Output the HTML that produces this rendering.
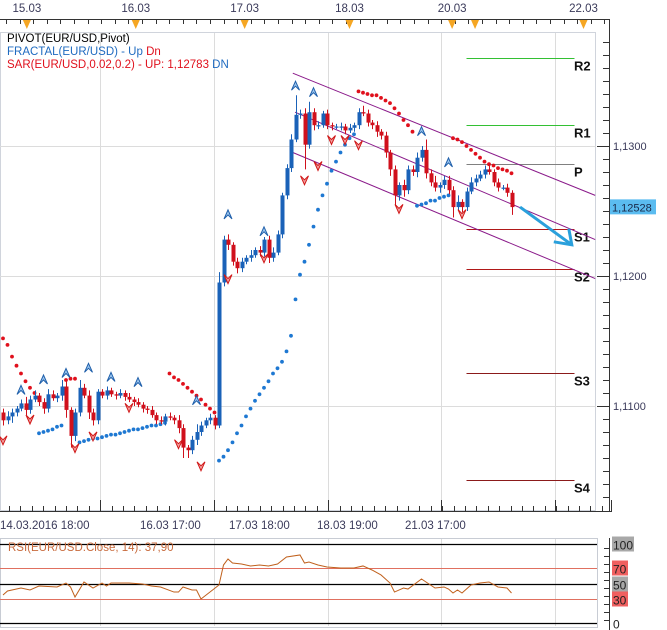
<!DOCTYPE html>
<html><head><meta charset="utf-8"><style>
html,body{margin:0;padding:0;background:#fff;}
svg{display:block;font-family:"Liberation Sans",sans-serif;}
</style></head><body>
<svg id="c" width="667" height="630" viewBox="0 0 667 630">
<rect x="0" y="0" width="667" height="630" fill="#fff"/>
<g id="grid"></g>
<g id="axes"></g>
<g id="pivots"></g>
<g id="channel"></g>
<g id="sar"></g>
<g id="candles"></g>
<g id="fractals"></g>
<g id="rsi"></g>
<g font-size="11.5">
<text x="7" y="42" fill="#000">PIVOT(EUR/USD,Pivot)</text>
<text x="7" y="55" fill="#1f6bc0">FRACTAL(EUR/USD) -  Up <tspan fill="#e0101c">Dn</tspan></text>
<text x="7" y="68" fill="#e0101c">SAR(EUR/USD,0.02,0.2) -  UP: 1,12783 <tspan fill="#1f6bc0">DN</tspan></text>
</g>
</svg>
<script>
const closes=[1.1089,1.1092,1.1095,1.1098,1.1102,1.1097,1.1105,1.1108,1.1103,1.1098,1.1109,1.1106,1.1108,1.1115,1.1097,1.1077,1.1095,1.1114,1.1108,1.1095,1.1089,1.1111,
1.1108,1.1112,1.1109,1.1108,1.1110,1.1107,1.1105,1.1103,1.1101,1.1098,1.1097,1.1093,1.1089,1.1088,1.1092,1.1091,1.1089,1.1083,1.1068,1.1066,1.1074,1.1080,1.1085,1.1089,1.1091,1.1085,
1.1195,1.1228,1.1224,1.1211,1.1206,1.1211,1.1214,1.1216,1.1220,1.1218,1.1228,1.1214,1.1218,1.1232,1.1262,1.1283,1.1305,1.1324,1.1325,1.1301,1.1326,1.1316,1.1316,1.1325,1.1316,1.1315,1.1315,1.1315,1.1312,1.1314,1.1316,1.1326,1.1325,1.1318,1.1316,1.1311,1.1308,1.1295,1.1282,1.1262,1.1270,1.1266,1.1282,1.1280,1.1291,1.1297,1.1279,1.1272,1.1268,1.1270,1.1274,1.1266,1.1253,1.1257,1.1253,1.1265,1.1272,1.1275,1.1278,1.1282,1.1280,1.1272,1.1268,1.1268,1.1264,1.1253];
const firstOpen=1.1095;
const upperWickPips=[3,4,3,2,3,5,3,4,2,3,4,3,2,5,4,2,3,6,3,4,3,2,2,3,2,2,3,2,3,2,3,2,2,3,2,3,2,3,2,4,3,2,3,6,3,2,3,2,8,3,4,2,3,3,2,4,2,3,2,3,4,3,2,3,4,15,3,4,8,3,3,2,3,2,2,3,2,3,2,3,5,3,2,3,2,3,2,3,2,4,3,3,4,3,8,3,5,2,3,3,3,5,2,3,4,3,3,3,4,2,3,2,3,2];
const lowerWickPips=[4,3,5,3,2,4,3,2,3,4,3,2,3,4,6,9,4,3,2,5,4,3,2,3,2,3,2,3,2,3,2,3,3,2,3,2,3,2,3,4,8,6,3,4,3,2,3,3,2,3,4,3,4,3,2,3,2,3,3,4,3,2,3,3,3,2,3,19,3,4,3,2,3,3,2,3,3,2,3,3,2,3,3,4,3,4,5,8,4,5,3,3,4,3,4,3,3,4,3,3,8,3,4,3,2,3,2,3,2,3,3,2,3,6];
const sarValues=[1.1152,1.1147,1.1138,1.1131,1.1125,1.1119,1.1114,1.1110,
1.1079,1.1080,1.1081,1.1082,1.1084,1.1085,1.1120,1.1121,1.1121,
1.1072,1.1073,1.1074,1.1075,1.1075,1.1076,1.1077,1.1078,1.1078,1.1079,1.1080,1.1081,1.1082,1.1082,1.1083,1.1084,1.1085,1.1085,1.1086,1.1087,
1.1125,1.1122,1.1120,1.1117,1.1114,1.1111,1.1108,1.1105,1.1101,1.1098,1.1095,
1.1058,1.1061,1.1066,1.1072,1.1079,1.1085,1.1092,1.1098,1.1104,1.1109,1.1114,1.1119,1.1125,1.1129,1.1134,1.1142,1.1154,1.1182,1.1201,1.1211,1.1224,1.1238,1.1251,1.1262,1.1271,1.1281,1.1288,1.1295,1.1301,1.1306,1.1309,
1.1342,1.1341,1.1340,1.1339,1.1339,1.1337,1.1335,1.1333,1.1329,1.1325,1.1320,1.1316,1.1311,
1.1254,1.1255,1.1256,1.1258,1.1258,1.1260,1.1261,1.1262,
1.1306,1.1305,1.1303,1.1300,1.1297,1.1294,1.1291,1.1288,1.1286,1.1285,1.1283,1.1282,1.1281,1.1279];
const fractalUpIdx=[4,9,14,19,24,30,43,50,58,65,69,93,99];
const fractalUpPrice=[1.1112,1.1120,1.1125,1.1129,1.1122,1.1118,1.1104,1.1247,1.1234,1.1346,1.1341,1.1311,1.1287];
const fractalDnIdx=[0,6,16,20,28,39,44,50,58,67,70,73,76,79,88,102];
const fractalDnPrice=[1.1074,1.1090,1.1068,1.1077,1.1099,1.1071,1.1054,1.1198,1.1214,1.1274,1.1285,1.1305,1.1305,1.1301,1.1252,1.1248];
const pivotNames=["R2","R1","P","S1","S2","S3","S4"];
const pivotPrices=[1.1368,1.1316,1.1286,1.1236,1.1205,1.1125,1.1043];
const pivotColors=["#33c033","#33c033","#808080","#b01818","#b01818","#8b1a1a","#8b1a1a"];
const pivotStartIdx=103, pivotEndIdx=127;
const channelStartIdx=[64.4,64.9,64.4], channelStartPrice=[1.1356,1.1326,1.1295];
const channelEndIdx=[131.6,131.6,131.6], channelEndPrice=[1.1262,1.1228,1.1198];
const arrowFrom=[114.9,1.1253], arrowTo=[126.4,1.1224];
const priceTicks=[1.13,1.12,1.11];
const priceTickLabels=["1,1300","1,1200","1,1100"];
const lastPrice=1.12528, lastPriceLabel="1,12528";
const topLabels=["15.03","16.03","17.03","18.03","20.03","22.03"];
const topLabelIdx=[5.3,29.5,53.7,77,99.8,129];
const bottomLabels=["14.03.2016 18:00","16.03 17:00","17.03 18:00","18.03 19:00","21.03 17:00"];
const bottomLabelX=[0,140,229,317,405];
const rsiIdx=[0,1,4,6,8,12,14,15,16,18,20,22,23,24,28,31,33,35,38,39,40,42,43,44,46,48,49,50,51,53,55,57,59,61,63,66,67,68,70,72,75,78,80,82,84,86,87,89,90,93,94,96,98,99,100,101,102,104,106,108,110,112,113];
const rsiValues=[35.4,40.5,44.3,41.8,46.8,45.6,50.6,45.6,32.9,51.9,44.3,50.6,46.8,50.6,50.6,49.4,46.8,45.6,39.2,39.2,45.6,41.8,41.8,30.4,39.2,48.1,73.4,81.0,75.9,74.7,72.2,73.4,72.2,74.7,83.5,86.1,75.9,77.2,73.4,70.9,69.6,69.6,72.2,67.1,60.8,50.6,39.2,44.3,43.0,55.7,51.9,44.3,45.6,43.0,38.0,41.8,38.0,48.1,50.6,51.9,45.6,44.3,38.0];
const rsiLevels=[100,70,50,30,0];

const NS="http://www.w3.org/2000/svg";
const X=i=>3+4.5*i;
const Y=p=>146+(1.13-p)*13000;
const RY=v=>623-v*0.79;
function mk(parent,tag,attrs){const e=document.createElementNS(NS,tag);for(const k in attrs)e.setAttribute(k,attrs[k]);document.getElementById(parent).appendChild(e);return e;}

// panels & grid
let e;
e=mk("grid","rect",{x:0.5,y:32.5,width:595,height:478,fill:"none",stroke:"#d0d4dc"});


[100,214,328,441,555].forEach(gx=>{
 e=mk("grid","line",{x1:gx+.5,x2:gx+.5,y1:33,y2:510,stroke:"#dcdcdc"});
 
 
 e=mk("grid","line",{x1:gx+.5,x2:gx+.5,y1:539,y2:626,stroke:"#dcdcdc"});
 
 
});
priceTicks.forEach(p=>{
 e=mk("grid","line",{x1:0,x2:596,y1:Math.round(Y(p))+.5,y2:Math.round(Y(p))+.5,stroke:"#dcdcdc"});
 
 
});
// top ruler
e=mk("axes","path",{d:"M0 19.5H609.5V32",fill:"none",stroke:"#333"});


for(let tx=6;tx<606;tx+=13.6){e=mk("axes","line",{x1:Math.round(tx)+.5,x2:Math.round(tx)+.5,y1:19,y2:24,stroke:"#333"});
 
 }
topLabels.forEach((t,k)=>{
 const tx=X(topLabelIdx[k]);
 e=mk("axes","text",{x:tx,y:12,"font-size":"11.5",fill:"#3a3a5a","text-anchor":"middle"});e.textContent=t;
 
 
 e=mk("axes","path",{d:`M${tx-4} 20L${tx+4} 20L${tx} 29Z`,fill:"#f5a623"});
 
 
});
e=mk("axes","path",{d:`M${X(104.9)-4} 20L${X(104.9)+4} 20L${X(104.9)} 29Z`,fill:"#f5a623"});


// right price axis
e=mk("axes","line",{x1:609.5,x2:609.5,y1:19,y2:512,stroke:"#333"});


for(let ty=42;ty<510;ty+=13){e=mk("axes","line",{x1:603,x2:609,y1:ty+.5,y2:ty+.5,stroke:"#333"});
 
 }
priceTicks.forEach((p,k)=>{
 e=mk("axes","line",{x1:597,x2:609,y1:Math.round(Y(p))+.5,y2:Math.round(Y(p))+.5,stroke:"#333"});
 
 
 e=mk("axes","text",{x:613,y:Y(p)+4,"font-size":"11",fill:"#3a3a5a"});e.textContent=priceTickLabels[k];
 
 
});
e=mk("axes","rect",{x:610,y:Y(lastPrice)-8,width:46,height:15,fill:"#5bbcf0"});


e=mk("axes","text",{x:612,y:Y(lastPrice)+4,"font-size":"11",fill:"#1a2a4a"});e.textContent=lastPriceLabel;


// bottom ruler
e=mk("axes","path",{d:"M0 511.5H611.5V500",fill:"none",stroke:"#333"});


for(let tx=9;tx<606;tx+=11.4){e=mk("axes","line",{x1:Math.round(tx)+.5,x2:Math.round(tx)+.5,y1:506,y2:511,stroke:"#333"});
 
 }
[100,214,328,441,555].forEach(gx=>{e=mk("axes","line",{x1:gx+.5,x2:gx+.5,y1:500,y2:511,stroke:"#333"});
 
 });
bottomLabels.forEach((t,k)=>{
 e=mk("axes","text",{x:bottomLabelX[k],y:529,"font-size":"11.5",fill:"#3a3a5a"});e.textContent=t;
 
 
});
// pivots
pivotPrices.forEach((p,k)=>{
 const yy=Math.round(Y(p))+.5;
 e=mk("pivots","line",{x1:X(pivotStartIdx),x2:X(pivotEndIdx),y1:yy,y2:yy,stroke:pivotColors[k],"stroke-width":1});
 
 
 e=mk("pivots","text",{x:574,y:yy+12,"font-size":"13","font-weight":"bold",fill:"#111"});e.textContent=pivotNames[k];
 
 
});
// channel
for(let k=0;k<3;k++){
 e=mk("channel","line",{x1:X(channelStartIdx[k]),y1:Y(channelStartPrice[k]),x2:X(channelEndIdx[k]),y2:Y(channelEndPrice[k]),stroke:"#8a1a8a","stroke-width":1});
 
 
}
{
 const x1=X(arrowFrom[0]),y1=Y(arrowFrom[1]),x2=X(arrowTo[0]),y2=Y(arrowTo[1]);
 e=mk("channel","path",{d:`M${x1} ${y1}L${x2} ${y2}M${x2-18} ${y2-3}L${x2} ${y2}L${x2-3} ${y2-16}`,fill:"none",stroke:"#2aa0dc","stroke-width":3});
 
 
}
// SAR
sarValues.forEach((s,i)=>{
 e=mk("sar","circle",{cx:X(i),cy:Y(s),r:1.9,fill:s>closes[i]?"#e0101c":"#1e78d2"});
 
 
});
// candles
closes.forEach((c,i)=>{
 const o=i===0?firstOpen:closes[i-1];
 const col=c>=o?"#1a62b8":"#d0101c";
 const hi=Math.max(o,c)+(upperWickPips[i]||2)*0.0001;
 const lo=Math.min(o,c)-(lowerWickPips[i]||2)*0.0001;
 const cx=Math.round(X(i))+.5;
 e=mk("candles","line",{x1:cx,x2:cx,y1:Y(hi),y2:Y(lo),stroke:col,"stroke-width":1});
 
 
 const top=Y(Math.max(o,c)),h=Math.max(1.2,Math.abs(Y(o)-Y(c)));
 e=mk("candles","rect",{x:cx-2,y:top,width:4,height:h,fill:col});
 
 
});
// fractals
fractalUpIdx.forEach((fi,k)=>{
 const cx=X(fi),cy=Y(fractalUpPrice[k]);
 e=mk("fractals","path",{d:`M${cx-4} ${cy+4}L${cx} ${cy-5}L${cx+4} ${cy+4}L${cx} ${cy}Z`,fill:"#9cc6ee",stroke:"#1f5faa","stroke-width":1});
 
 
});
fractalDnIdx.forEach((fi,k)=>{
 const cx=X(fi),cy=Y(fractalDnPrice[k]);
 e=mk("fractals","path",{d:`M${cx-4} ${cy-4}L${cx} ${cy+5}L${cx+4} ${cy-4}L${cx} ${cy}Z`,fill:"#f3a0a0",stroke:"#d01818","stroke-width":1});
 
 
});
// RSI panel
e=mk("rsi","rect",{x:0.5,y:538.5,width:597,height:89,fill:"none",stroke:"#c8ccd4"});


rsiLevels.forEach(v=>{
 const yy=Math.round(RY(v))+.5;
 const black=(v===100||v===50||v===0);
 e=mk("rsi","line",{x1:0,x2:597,y1:yy,y2:yy,stroke:black?"#000":"#e07060","stroke-width":black?1.3:1});
 
 
 if(v!==0){
  e=mk("rsi","rect",{x:612,y:yy-8,width:v===100?22:16,height:15,fill:black?"#a8a8a8":"#f06060"});
  
  
 }
 e=mk("rsi","text",{x:613,y:yy+5,"font-size":"12",fill:"#222"});e.textContent=String(v);
 
 
});
e=mk("rsi","line",{x1:609.5,x2:609.5,y1:538,y2:630,stroke:"#333"});


for(let ty=548;ty<628;ty+=8){e=mk("rsi","line",{x1:604,x2:609,y1:ty+.5,y2:ty+.5,stroke:"#333"});
 
 }
e=mk("rsi","polyline",{points:rsiIdx.map((ri,k)=>X(ri)+","+RY(rsiValues[k])).join(" "),fill:"none",stroke:"#c0601c","stroke-width":1});


e=mk("rsi","text",{x:8,y:551,"font-size":"11.5",fill:"#c86a3c"});e.textContent="RSI(EUR/USD.Close, 14): 37,90";


</script>
</body></html>
